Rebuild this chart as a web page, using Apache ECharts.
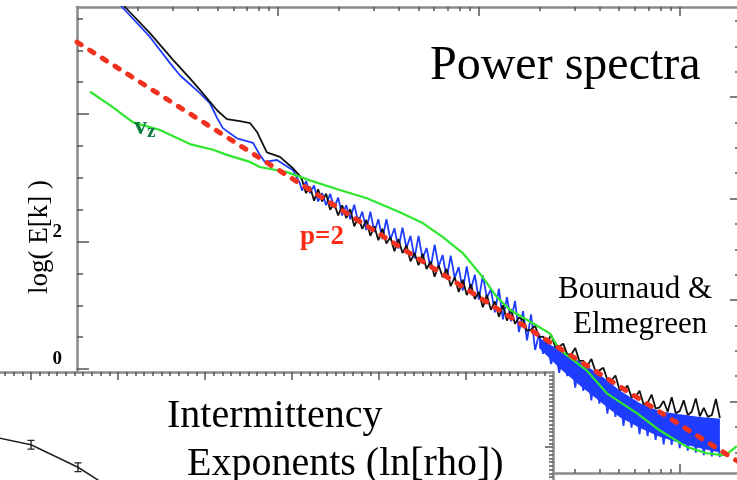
<!DOCTYPE html>
<html>
<head>
<meta charset="utf-8">
<script src="https://cdn.jsdelivr.net/npm/echarts@6/dist/echarts.min.js"></script>
<style>
  html, body { margin: 0; padding: 0; background: #fff; }
  #chart { width: 737px; height: 480px; }
</style>
</head>
<body>
<div id="chart"></div>
<script>
// Power spectra, x = log10(k), y = log10(E[k])

// total spectrum (black) and density spectrum (blue), low-k part
const blackHeadLogK = [0.204, 0.239, 0.363, 0.478, 0.562, 0.612, 0.697, 0.746, 0.811, 0.861, 0.896, 0.945, 1.010, 1.075, 1.109];
const blackHeadVal  = [5.87, 5.68, 5.27, 4.85, 4.56, 4.38, 4.06, 3.92, 3.89, 3.86, 3.72, 3.40, 3.33, 3.15, 3.03];
const blueHeadLogK  = [0.194, 0.224, 0.363, 0.463, 0.512, 0.612, 0.662, 0.697, 0.726, 0.796, 0.876, 0.910, 0.935, 0.995, 1.075, 1.109];
const blueHeadVal   = [5.87, 5.68, 5.21, 4.80, 4.61, 4.33, 4.17, 3.94, 3.78, 3.62, 3.55, 3.36, 3.25, 3.28, 3.12, 2.92];

// high-k part, sampled on a common grid
const tailLogK = [
  1.12, 1.14, 1.16, 1.18, 1.20, 1.22, 1.24, 1.26, 1.28, 1.30,
  1.32, 1.34, 1.36, 1.38, 1.40, 1.42, 1.44, 1.46, 1.48, 1.50,
  1.52, 1.54, 1.56, 1.58, 1.60, 1.62, 1.64, 1.66, 1.68, 1.70,
  1.72, 1.74, 1.76, 1.78, 1.80, 1.82, 1.84, 1.86, 1.88, 1.90,
  1.92, 1.94, 1.96, 1.98, 2.00, 2.02, 2.04, 2.06, 2.08, 2.10,
  2.12, 2.14, 2.16, 2.18, 2.20, 2.22, 2.24, 2.26, 2.28, 2.30,
  2.32, 2.34, 2.36, 2.38, 2.40, 2.42, 2.44, 2.46, 2.48, 2.50,
  2.52, 2.54, 2.56, 2.58, 2.60, 2.62, 2.64, 2.66, 2.68, 2.70,
  2.72, 2.74, 2.76, 2.78, 2.80, 2.82, 2.84, 2.86, 2.88, 2.90,
  2.92, 2.94, 2.96, 2.98, 3.00, 3.02, 3.04, 3.06, 3.08, 3.10,
  3.12, 3.14, 3.16, 3.18, 3.20
];
const blackTailVal = [
  2.97, 2.76, 2.86, 2.64, 2.82, 2.63, 2.75, 2.50, 2.60, 2.41,
  2.57, 2.37, 2.51, 2.24, 2.38, 2.20, 2.34, 2.09, 2.24, 2.02,
  2.20, 1.97, 2.07, 1.85, 2.04, 1.82, 1.94, 1.69, 1.82, 1.63,
  1.81, 1.57, 1.69, 1.45, 1.63, 1.44, 1.57, 1.30, 1.44, 1.21,
  1.40, 1.16, 1.33, 1.10, 1.21, 0.97, 1.16, 0.93, 1.06, 0.82,
  1.00, 0.76, 0.94, 0.71, 0.81, 0.77, 0.60, 0.62, 0.68, 0.50,
  0.51, 0.41, 0.54, 0.35, 0.35, 0.40, 0.23, 0.23, 0.33, 0.13,
  0.13, 0.05, 0.16, -0.03, -0.02, 0.02, -0.17, -0.18, -0.10, -0.32,
  -0.33, -0.26, -0.44, -0.44, -0.34, -0.55, -0.53, -0.40, -0.62, -0.60,
  -0.50, -0.67, -0.44, -0.69, -0.66, -0.49, -0.72, -0.67, -0.46, -0.74,
  -0.61, -0.75, -0.72, -0.47, -0.77
];
const blueTailVal = [
  2.80, 2.95, 2.76, 2.88, 2.63, 2.76, 2.57, 2.75, 2.53, 2.69,
  2.41, 2.57, 2.35, 2.58, 2.30, 2.47, 2.18, 2.47, 2.15, 2.35,
  2.04, 2.35, 2.03, 2.21, 1.89, 2.22, 1.90, 2.09, 1.74, 2.09,
  1.73, 1.90, 1.59, 1.95, 1.61, 1.79, 1.42, 1.78, 1.43, 1.60,
  1.23, 1.61, 1.24, 1.48, 1.09, 1.47, 1.12, 1.25, 0.89, 1.26,
  0.78, 1.13, 0.75, 1.07, 0.58, 0.91, 0.45, 0.86, 0.30, 0.55,
  0.24, 0.40, 0.08, 0.33, -0.06, 0.25, -0.11, 0.18, -0.29, 0.11,
  -0.34, 0.03, -0.49, -0.05, -0.54, -0.14, -0.70, -0.24, -0.75, -0.34,
  -0.89, -0.42, -0.92, -0.50, -1.02, -0.57, -1.05, -0.62, -1.11, -0.67,
  -1.18, -0.69, -1.19, -0.71, -1.24, -0.73, -1.28, -0.74, -1.31, -0.76,
  -1.35, -0.77, -1.37, -0.78, -1.38
];

// dense high-k blue band (upper / lower edge)
const bandLogK = [2.30, 2.40, 2.50, 2.60, 2.70, 2.80, 2.90, 3.00, 3.10, 3.20];
const bandHigh = [0.49, 0.30, 0.12, -0.08, -0.33, -0.53, -0.66, -0.71, -0.75, -0.78];
const bandLow  = [0.33, 0.02, -0.25, -0.50, -0.75, -0.92, -1.06, -1.16, -1.24, -1.31];

// vertical velocity spectrum (green)
const vzLogK = [0.065, 0.164, 0.279, 0.413, 0.562, 0.677, 0.746, 0.861, 0.910, 1.045, 1.159, 1.308, 1.443, 1.607, 1.721, 1.821, 1.920, 2.020, 2.090, 2.154, 2.269, 2.353, 2.403, 2.537, 2.637, 2.786, 2.900, 3.035, 3.134, 3.214, 3.249, 3.284];
const vzVal  = [4.35, 4.14, 3.87, 3.75, 3.53, 3.44, 3.36, 3.25, 3.17, 3.09, 2.96, 2.81, 2.68, 2.46, 2.29, 2.07, 1.82, 1.44, 1.13, 0.93, 0.72, 0.56, 0.30, -0.02, -0.38, -0.69, -0.96, -1.22, -1.32, -1.35, -1.30, -1.21];

// reference power law, slope -2
const slopeLogK = [0, 3.3];
const slopeVal  = [5.13, -1.47];

// intermittency exponents (inset)
const interP   = [0.46, 1.00, 1.54, 2.08];
const interVal = [1.16, 1.03, 0.73, 0.33];

// tick positions
const decadeTicks = [1, 2, 3];
const decadeMinor = [];
for (let d = 0; d <= 3; d++) {
  for (let m = 2; m <= 9; m++) {
    const v = d + Math.log10(m);
    if (v <= 3.3) decadeMinor.push(v);
  }
}
const leftMajor = [0, 2, 4];
const leftMinor = [-1.5, -1, -0.5, 0.5, 1, 1.5, 2.5, 3, 3.5, 4.5, 5, 5.5];
const leftLabels = [0, 2];
const rightMajor = [-1, 0, 1, 2];
const rightMinor = [];
for (let i = -6; i <= 11; i++) if (i % 4 !== 0) rightMinor.push(i / 4);
const insetXMajor = [1, 2, 3, 4, 5, 6];
const insetXMinor = [];
for (let i = 1; i < 70; i++) if (i % 10 !== 0) insetXMinor.push(i / 10);
const insetYMajor = [1];
const insetYMinor = [];
for (let i = 1; i < 40; i++) if (i % 20 !== 0) insetYMinor.push(i / 20);

const zip = (xs, ys) => xs.map((x, i) => [x, ys[i]]);

const frame = '#8a8a8a';
const tickCol = '#555';

function xAx(grid, pos, min, max, ticks, len, showLine, z) {
  return {
    gridIndex: grid, type: 'value', position: pos, min: min, max: max, z: z,
    axisLine: { show: showLine, onZero: false, lineStyle: { color: frame, width: 2.5 } },
    axisTick: { show: true, inside: true, length: len, customValues: ticks, lineStyle: { color: tickCol, width: 1.5 } },
    axisLabel: { show: false }, splitLine: { show: false }
  };
}
function yAx(grid, pos, min, max, ticks, len, showLine, z, labels) {
  return {
    gridIndex: grid, type: 'value', position: pos, min: min, max: max, z: z,
    axisLine: { show: showLine, onZero: false, lineStyle: { color: frame, width: 2.5 } },
    axisTick: { show: true, inside: true, length: len, customValues: ticks, lineStyle: { color: tickCol, width: 1.5 } },
    axisLabel: labels ? {
      show: true, customValues: labels, margin: 15, verticalAlign: 'bottom',
      fontFamily: 'Liberation Serif', fontWeight: 'bold', fontSize: 19, color: '#000',
      formatter: v => String(v)
    } : { show: false },
    splitLine: { show: false }
  };
}

const chart = echarts.init(document.getElementById('chart'), null, { renderer: 'canvas' });

chart.setOption({
  animation: false,
  backgroundColor: '#fff',
  grid: [
    { left: 77, top: 7, width: 663, height: 466, outerBoundsMode: 'none', containLabel: false },
    { left: -56, top: 372, width: 609, height: 150, outerBoundsMode: 'none', containLabel: false }
  ],
  xAxis: [
    xAx(0, 'bottom', 0, 3.3, decadeTicks, 9, true, 0),
    xAx(0, 'bottom', 0, 3.3, decadeMinor, 4, false, 0),
    xAx(0, 'top', 0, 3.3, decadeTicks, 9, true, 0),
    xAx(0, 'top', 0, 3.3, decadeMinor, 4, false, 0),
    xAx(1, 'top', 0, 7, insetXMajor, 8, true, 11),
    xAx(1, 'top', 0, 7, insetXMinor, 4, false, 11)
  ],
  yAxis: [
    yAx(0, 'left', -1.63, 5.68, leftMajor, 12, true, 0, leftLabels),
    yAx(0, 'left', -1.63, 5.68, leftMinor, 6, false, 0),
    yAx(0, 'right', -1.704, 2.887, rightMajor, 10, true, 0),
    yAx(0, 'right', -1.704, 2.887, rightMinor, 5, false, 0),
    yAx(1, 'right', 0, 2, insetYMajor, 8, true, 11),
    yAx(1, 'right', 0, 2, insetYMinor, 4, false, 11)
  ],
  series: [
    {
      type: 'custom', xAxisIndex: 0, yAxisIndex: 0, z: 2, silent: true,
      data: [[bandLogK[0], bandLow[0]]],
      renderItem: function (params, api) {
        if (params.dataIndex !== 0) return null;
        const pts = [];
        for (let i = 0; i < bandLogK.length; i++) pts.push(api.coord([bandLogK[i], bandHigh[i]]));
        for (let i = bandLogK.length - 1; i >= 0; i--) pts.push(api.coord([bandLogK[i], bandLow[i]]));
        return { type: 'polygon', shape: { points: pts }, style: { fill: '#1f3dff' } };
      }
    },
    {
      type: 'line', xAxisIndex: 0, yAxisIndex: 0, z: 3, showSymbol: false, clip: true,
      data: zip(blueHeadLogK.concat(tailLogK), blueHeadVal.concat(blueTailVal)),
      lineStyle: { color: '#1f3dff', width: 1.8 }
    },
    {
      type: 'line', xAxisIndex: 0, yAxisIndex: 0, z: 4, showSymbol: false, clip: true,
      data: zip(blackHeadLogK.concat(tailLogK), blackHeadVal.concat(blackTailVal)),
      lineStyle: { color: '#111', width: 1.8 }
    },
    {
      type: 'line', xAxisIndex: 0, yAxisIndex: 0, z: 5, showSymbol: false, clip: true,
      data: zip(vzLogK, vzVal),
      lineStyle: { color: '#2ee62e', width: 2.2 }
    },
    {
      type: 'line', xAxisIndex: 0, yAxisIndex: 0, z: 6, showSymbol: false, clip: false,
      data: zip(slopeLogK, slopeVal),
      lineStyle: { color: '#f2321e', width: 5, type: [5, 10], cap: 'round' }
    },
    {
      type: 'line', xAxisIndex: 4, yAxisIndex: 4, z: 12, clip: true,
      data: zip(interP, interVal),
      symbol: 'path://M0,0H6V1.2H3.6V8.8H6V10H0V8.8H2.4V1.2H0Z',
      symbolSize: [7, 10], showSymbol: true,
      itemStyle: { color: '#222' },
      lineStyle: { color: '#222', width: 1.5 }
    }
  ],
  graphic: [
    { type: 'rect', z: 10, silent: true, shape: { x: -5, y: 372, width: 558, height: 120 }, style: { fill: '#fff' } },
    { type: 'text', z: 20, x: 430, y: 66, style: { text: 'Power spectra', font: '48px "Liberation Serif"', fill: '#000', textVerticalAlign: 'middle' } },
    { type: 'text', z: 20, x: 558, y: 290, style: { text: 'Bournaud &', font: '31px "Liberation Serif"', fill: '#000', textVerticalAlign: 'middle' } },
    { type: 'text', z: 20, x: 573, y: 325, style: { text: 'Elmegreen', font: '31px "Liberation Serif"', fill: '#000', textVerticalAlign: 'middle' } },
    { type: 'text', z: 20, x: 300, y: 237, style: { text: 'p=2', font: 'bold 27px "Liberation Serif"', fill: '#ff2a14', textVerticalAlign: 'middle' } },
    { type: 'text', z: 20, x: 134, y: 127, style: { text: 'v', font: 'bold 26px "Liberation Serif"', fill: '#0b7a3e', textVerticalAlign: 'middle' } },
    { type: 'text', z: 20, x: 147, y: 132, style: { text: 'z', font: 'bold 19px "Liberation Serif"', fill: '#0b7a3e', textVerticalAlign: 'middle' } },
    { type: 'text', z: 20, x: 40, y: 237, rotation: Math.PI / 2, style: { text: 'log( E[k] )', font: '27px "Liberation Serif"', fill: '#000', textAlign: 'center', textVerticalAlign: 'middle' } },
    { type: 'text', z: 20, x: 167, y: 416, style: { text: 'Intermittency', font: '40px "Liberation Serif"', fill: '#000', textVerticalAlign: 'middle' } },
    { type: 'text', z: 20, x: 187, y: 464, style: { text: 'Exponents (ln[rho])', font: '40px "Liberation Serif"', fill: '#000', textVerticalAlign: 'middle' } }
  ]
});
</script>
</body>
</html>
